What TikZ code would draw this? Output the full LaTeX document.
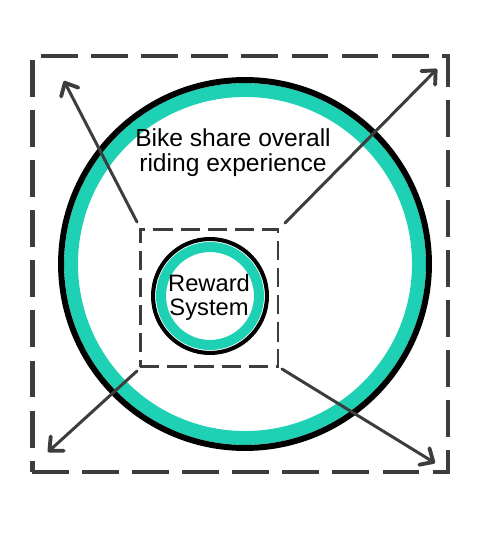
\documentclass[tikz,border=0pt]{standalone}
\usepackage{fontspec}
\setmainfont{Liberation Sans}
\usetikzlibrary{arrows.meta}
\definecolor{ringteal}{HTML}{1FD1B4}
\definecolor{sketchgray}{HTML}{3D3D3D}

\begin{document}
\begin{tikzpicture}[x=0.02cm, y=-0.02cm,
  outerbox/.style={draw=sketchgray, line width=2.8pt, dash pattern=on 21pt off 7.5pt, minimum size=8.32cm, inner sep=0pt},
  innerbox/.style={draw=sketchgray, line width=1.7pt, dash pattern=on 11pt off 4.5pt, minimum size=2.76cm, inner sep=0pt},
  tealring/.style={circle, draw=ringteal, inner sep=0pt},
  blackring/.style={circle, draw=black, inner sep=0pt},
  spread/.style={draw=sketchgray, line width=1.7pt, line cap=round, -{Straight Barb[length=6pt,width=11pt,line width=2.2pt,round]}},
  caption/.style={align=center, font=\fontsize{14}{14.3}\selectfont}]
\useasboundingbox (0,0) rectangle (500,546);
\node[outerbox] (frame) at (240,264) {};
\node[tealring, line width=7.9pt, minimum size=6.96cm] (ridefill) at (245,264) {};
\node[blackring, line width=3.4pt, minimum size=7.36cm] (ride) at (245,264) {};
\node[caption] (ridetext) at (233,153) {Bike share overall\\riding experience};
\node[innerbox] (core) at (209,298) {};
\node[tealring, line width=5.7pt, minimum size=1.96cm] (rewardfill) at (210,296) {};
\node[blackring, line width=2.3pt, minimum size=2.28cm] (rewardring) at (210,296) {};
\node[caption, font=\fontsize{13.5}{13.8}\selectfont] (reward) at (209,297) {Reward\\System};
\coordinate (nwfrom) at (137,222);
\coordinate (nwto) at (64,81);
\coordinate (nefrom) at (285,223);
\coordinate (neto) at (437,69);
\coordinate (swfrom) at (137,371);
\coordinate (swto) at (48,452);
\coordinate (sefrom) at (282,369);
\coordinate (seto) at (435,463);
\draw[spread] (nwfrom) -- (nwto);
\draw[spread] (nefrom) -- (neto);
\draw[spread] (swfrom) -- (swto);
\draw[spread] (sefrom) -- (seto);
\end{tikzpicture}
\end{document}
